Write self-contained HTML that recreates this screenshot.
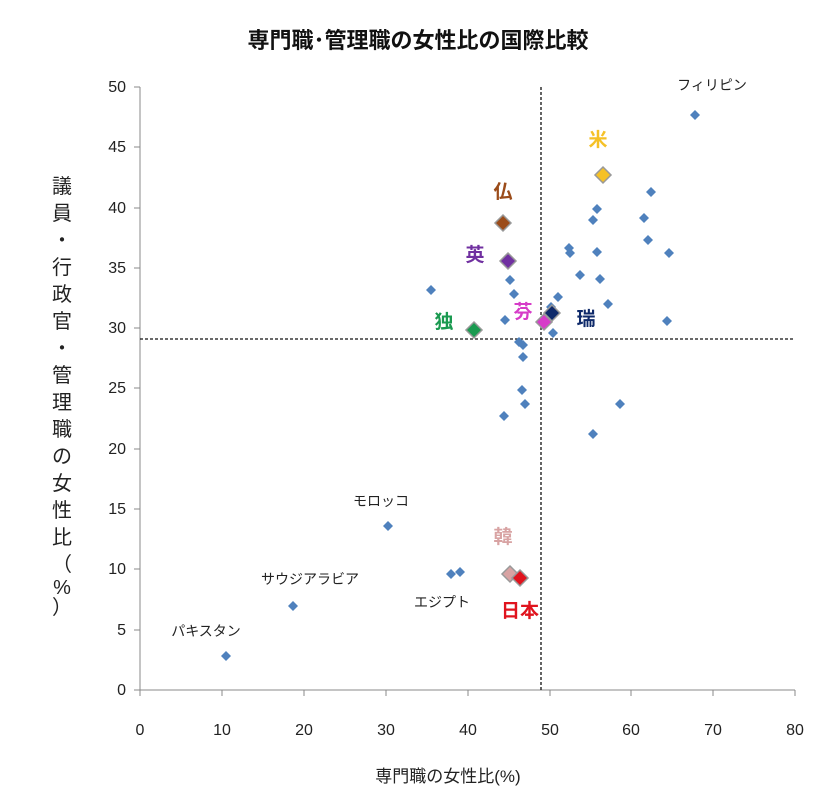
<!DOCTYPE html>
<html><head><meta charset="utf-8"><style>
body{margin:0;background:#fff}
svg text{font-family:"Liberation Sans","Noto Sans CJK JP",sans-serif}
</style></head><body>
<svg width="837" height="802" viewBox="0 0 837 802" xmlns="http://www.w3.org/2000/svg">
<text x="418" y="48" font-size="22" font-weight="bold" text-anchor="middle" fill="#111">専門職･管理職の女性比の国際比較</text>
<g stroke="#888" stroke-width="1">
<line x1="140" y1="87" x2="140" y2="690"/>
<line x1="140" y1="690" x2="795" y2="690"/>
<line x1="134" y1="87" x2="140" y2="87"/><line x1="134" y1="147" x2="140" y2="147"/><line x1="134" y1="208" x2="140" y2="208"/><line x1="134" y1="268" x2="140" y2="268"/><line x1="134" y1="328" x2="140" y2="328"/><line x1="134" y1="388" x2="140" y2="388"/><line x1="134" y1="449" x2="140" y2="449"/><line x1="134" y1="509" x2="140" y2="509"/><line x1="134" y1="569" x2="140" y2="569"/><line x1="134" y1="630" x2="140" y2="630"/><line x1="134" y1="690" x2="140" y2="690"/>
<line x1="140" y1="690" x2="140" y2="696"/><line x1="222" y1="690" x2="222" y2="696"/><line x1="304" y1="690" x2="304" y2="696"/><line x1="386" y1="690" x2="386" y2="696"/><line x1="468" y1="690" x2="468" y2="696"/><line x1="550" y1="690" x2="550" y2="696"/><line x1="631" y1="690" x2="631" y2="696"/><line x1="713" y1="690" x2="713" y2="696"/><line x1="795" y1="690" x2="795" y2="696"/>
</g>
<g font-size="16" fill="#222" text-anchor="end">
<text x="126" y="92">50</text><text x="126" y="152">45</text><text x="126" y="213">40</text><text x="126" y="273">35</text><text x="126" y="333">30</text><text x="126" y="393">25</text><text x="126" y="454">20</text><text x="126" y="514">15</text><text x="126" y="574">10</text><text x="126" y="635">5</text><text x="126" y="695">0</text>
</g>
<g font-size="16" fill="#222" text-anchor="middle">
<text x="140" y="735">0</text><text x="222" y="735">10</text><text x="304" y="735">20</text><text x="386" y="735">30</text><text x="468" y="735">40</text><text x="550" y="735">50</text><text x="631" y="735">60</text><text x="713" y="735">70</text><text x="795" y="735">80</text>
</g>
<text x="448" y="782" font-size="17" text-anchor="middle" fill="#222">専門職の女性比(%)</text>
<g font-size="20" fill="#222" text-anchor="middle">
<text x="62" y="193">議</text><text x="62" y="220">員</text><text x="62" y="247">・</text><text x="62" y="274">行</text><text x="62" y="301">政</text><text x="62" y="328">官</text><text x="62" y="355">・</text><text x="62" y="382">管</text><text x="62" y="409">理</text><text x="62" y="436">職</text><text x="62" y="463">の</text><text x="62" y="490">女</text><text x="62" y="517">性</text><text x="62" y="544">比</text><text x="62" y="571">（</text><text x="62" y="594">%</text><text x="62" y="614">）</text>
</g>
<g stroke="#111" stroke-width="1.3" stroke-dasharray="3,2">
<line x1="541" y1="87" x2="541" y2="690"/>
<line x1="140" y1="339" x2="795" y2="339"/>
</g>
<g fill="#4f81bd">
<path d="M0,-5L5,0L0,5L-5,0Z" transform="translate(695,115)"/>
<path d="M0,-5L5,0L0,5L-5,0Z" transform="translate(651,192)"/>
<path d="M0,-5L5,0L0,5L-5,0Z" transform="translate(644,218)"/>
<path d="M0,-5L5,0L0,5L-5,0Z" transform="translate(597,209)"/>
<path d="M0,-5L5,0L0,5L-5,0Z" transform="translate(593,220)"/>
<path d="M0,-5L5,0L0,5L-5,0Z" transform="translate(648,240)"/>
<path d="M0,-5L5,0L0,5L-5,0Z" transform="translate(569,248)"/>
<path d="M0,-5L5,0L0,5L-5,0Z" transform="translate(570,253)"/>
<path d="M0,-5L5,0L0,5L-5,0Z" transform="translate(597,252)"/>
<path d="M0,-5L5,0L0,5L-5,0Z" transform="translate(669,253)"/>
<path d="M0,-5L5,0L0,5L-5,0Z" transform="translate(580,275)"/>
<path d="M0,-5L5,0L0,5L-5,0Z" transform="translate(600,279)"/>
<path d="M0,-5L5,0L0,5L-5,0Z" transform="translate(558,297)"/>
<path d="M0,-5L5,0L0,5L-5,0Z" transform="translate(608,304)"/>
<path d="M0,-5L5,0L0,5L-5,0Z" transform="translate(667,321)"/>
<path d="M0,-5L5,0L0,5L-5,0Z" transform="translate(510,280)"/>
<path d="M0,-5L5,0L0,5L-5,0Z" transform="translate(514,294)"/>
<path d="M0,-5L5,0L0,5L-5,0Z" transform="translate(431,290)"/>
<path d="M0,-5L5,0L0,5L-5,0Z" transform="translate(505,320)"/>
<path d="M0,-5L5,0L0,5L-5,0Z" transform="translate(519,342)"/>
<path d="M0,-5L5,0L0,5L-5,0Z" transform="translate(523,345)"/>
<path d="M0,-5L5,0L0,5L-5,0Z" transform="translate(523,357)"/>
<path d="M0,-5L5,0L0,5L-5,0Z" transform="translate(522,390)"/>
<path d="M0,-5L5,0L0,5L-5,0Z" transform="translate(525,404)"/>
<path d="M0,-5L5,0L0,5L-5,0Z" transform="translate(504,416)"/>
<path d="M0,-5L5,0L0,5L-5,0Z" transform="translate(620,404)"/>
<path d="M0,-5L5,0L0,5L-5,0Z" transform="translate(593,434)"/>
<path d="M0,-5L5,0L0,5L-5,0Z" transform="translate(551,307)"/>
<path d="M0,-5L5,0L0,5L-5,0Z" transform="translate(553,333)"/>
<path d="M0,-5L5,0L0,5L-5,0Z" transform="translate(388,526)"/>
<path d="M0,-5L5,0L0,5L-5,0Z" transform="translate(293,606)"/>
<path d="M0,-5L5,0L0,5L-5,0Z" transform="translate(226,656)"/>
<path d="M0,-5L5,0L0,5L-5,0Z" transform="translate(451,574)"/>
<path d="M0,-5L5,0L0,5L-5,0Z" transform="translate(460,572)"/>
</g>
<g stroke="#999" stroke-width="1.5">
<path d="M0,-8L8,0L0,8L-8,0Z" transform="translate(603,175)" fill="#f5c127"/>
<path d="M0,-8L8,0L0,8L-8,0Z" transform="translate(503,223)" fill="#9b4c1a"/>
<path d="M0,-8L8,0L0,8L-8,0Z" transform="translate(508,261)" fill="#7030a0"/>
<path d="M0,-8L8,0L0,8L-8,0Z" transform="translate(474,330)" fill="#1a9a50"/>
<path d="M0,-8L8,0L0,8L-8,0Z" transform="translate(552,313)" fill="#0f2a6a"/>
<path d="M0,-8L8,0L0,8L-8,0Z" transform="translate(544,322)" fill="#d63cc8"/>
<path d="M0,-8L8,0L0,8L-8,0Z" transform="translate(510,574)" fill="#d8a3a3"/>
<path d="M0,-8L8,0L0,8L-8,0Z" transform="translate(520,578)" fill="#e0141e"/>
</g>
<g font-size="19" font-weight="bold" text-anchor="middle">
<text x="598" y="146" fill="#f5c127">米</text>
<text x="503" y="198" fill="#9b4c1a">仏</text>
<text x="475" y="261" fill="#7030a0">英</text>
<text x="444" y="328" fill="#1a9a50">独</text>
<text x="523" y="318" fill="#d63cc8">芬</text>
<text x="586" y="325" fill="#0f2a6a">瑞</text>
<text x="503" y="543" fill="#d8a3a3">韓</text>
<text x="520" y="617" fill="#e0141e">日本</text>
</g>
<g font-size="14" fill="#222" text-anchor="middle">
<text x="712" y="90">フィリピン</text>
<text x="381" y="506">モロッコ</text>
<text x="310" y="584">サウジアラビア</text>
<text x="442" y="607">エジプト</text>
<text x="206" y="636">パキスタン</text>
</g>
</svg>
</body></html>
